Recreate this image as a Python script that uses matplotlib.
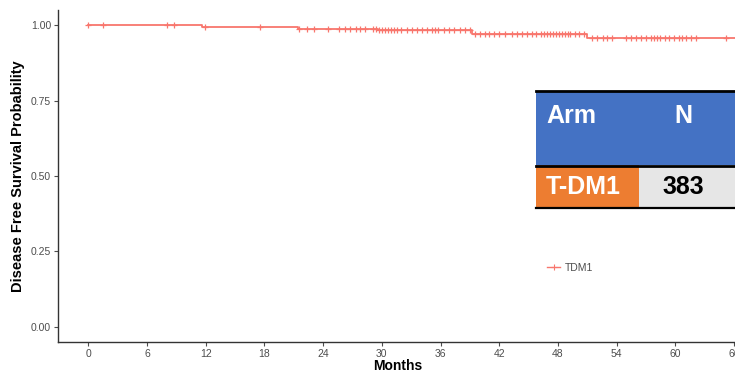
import numpy as np
import matplotlib
matplotlib.use('Agg')
import matplotlib.pyplot as plt
from matplotlib.patches import Rectangle
from matplotlib.lines import Line2D

plt.rcParams['font.family'] = ['Liberation Sans', 'DejaVu Sans']

# Kaplan-Meier step curve (months, survival probability)
event_times = [0, 11.6, 21.4, 29.6, 39.2, 51.0, 67.0]
surv_levels = [1.0, 0.9935, 0.987, 0.983, 0.970, 0.956, 0.956]

# censoring times (months)
censor_times = [0, 1.5, 8.0, 8.8, 11.9, 17.5, 21.5, 22.4, 23.1, 24.5, 25.6, 26.2,
                26.7, 27.4, 27.8, 28.3, 29.1, 29.4, 29.7, 30.0, 30.3, 30.6, 30.9,
                31.2, 31.5, 32.0, 32.6, 33.1, 33.6, 34.1, 34.6, 35.1, 35.4, 35.7,
                36.4, 36.9, 37.4, 38.0, 38.5, 39.0, 39.5, 40.0, 40.5, 41.0, 41.5,
                42.0, 42.6, 43.3, 43.8, 44.3, 44.8, 45.3, 45.8, 46.3, 46.6, 46.9,
                47.2, 47.5, 47.8, 48.1, 48.4, 48.7, 49.0, 49.2, 49.7, 50.2, 50.7,
                51.5, 52.0, 52.6, 53.0, 53.5, 55.0, 55.5, 56.0, 56.5, 57.0, 57.5,
                57.8, 58.1, 58.4, 58.9, 59.4, 59.9, 60.4, 60.7, 61.1, 61.6, 62.1,
                65.2]

x_ticks = [0, 6, 12, 18, 24, 30, 36, 42, 48, 54, 60, 66]
y_ticks = [0.00, 0.25, 0.50, 0.75, 1.00]

table_header = ['Arm', 'N']
table_row = ['T-DM1', '383']

red = '#F8766D'
W, H = 735, 373

fig = plt.figure(figsize=(W / 100, H / 100), dpi=100)
ax = fig.add_axes([58 / W, 31 / H, 1 - 58 / W, (342 - 10) / H])

ax.step(event_times, surv_levels, where='post', color=red, lw=1.3)
idx = np.searchsorted(event_times, censor_times, side='right') - 1
cy = np.array(surv_levels)[idx]
ax.plot(censor_times, cy, ls='none', marker='+', ms=4.5, mew=0.9, color=red)

ax.set_xlim(-3.1, 66.1)
ax.set_ylim(-0.05, 1.05)
ax.set_xticks(x_ticks)
ax.set_yticks(y_ticks)
ax.set_yticklabels([f'{v:.2f}' for v in y_ticks])
ax.tick_params(colors='#4D4D4D', labelsize=7.5, length=3, width=0.8, pad=2)
for s in ['top', 'right']:
    ax.spines[s].set_visible(False)
for s in ['left', 'bottom']:
    ax.spines[s].set_color('#333333')
    ax.spines[s].set_linewidth(1.0)

ax.set_xlabel('Months', fontsize=10, fontweight='bold')
ax.set_ylabel('Disease Free Survival Probability', fontsize=10.5, fontweight='bold')
ax.xaxis.set_label_coords(398 / W, (H - 359) / H, transform=fig.transFigure)
ax.yaxis.set_label_coords(25 / W, (H - 176) / H, transform=fig.transFigure)

# legend
handle = Line2D([], [], color=red, lw=1.0, marker='+', ms=5, mew=0.8)
fig.legend([handle], ['TDM1'], loc='center left', bbox_to_anchor=(538 / W, 1 - 268 / H),
           frameon=False, fontsize=7.5, handlelength=1.2, handletextpad=0.5,
           labelcolor='#4D4D4D')

# inset table drawn in pixel-based figure coordinates
def rect(x0, y0, x1, y1, color):
    fig.add_artist(Rectangle((x0 / W, 1 - y1 / H), (x1 - x0) / W, (y1 - y0) / H,
                             transform=fig.transFigure, facecolor=color, edgecolor='none'))

rect(536, 92, 740, 165, '#4472C4')
rect(536, 165, 639, 207, '#ED7D31')
rect(639, 165, 740, 207, '#E6E6E6')
for yy, lw in [(91, 2.0), (165.5, 2.0), (207.5, 1.6)]:
    fig.add_artist(Line2D([536 / W, 1], [1 - yy / H, 1 - yy / H], transform=fig.transFigure,
                          color='black', lw=lw))

fig.text(546 / W, 1 - 116 / H, table_header[0], color='white', fontsize=18,
         fontweight='bold', va='center', ha='left')
fig.text(683 / W, 1 - 116 / H, table_header[1], color='white', fontsize=18,
         fontweight='bold', va='center', ha='center')
fig.text(546 / W, 1 - 187 / H, table_row[0], color='white', fontsize=18,
         fontweight='bold', va='center', ha='left')
fig.text(683 / W, 1 - 187 / H, table_row[1], color='black', fontsize=18,
         fontweight='bold', va='center', ha='center')

fig.savefig('out.png', dpi=100)
